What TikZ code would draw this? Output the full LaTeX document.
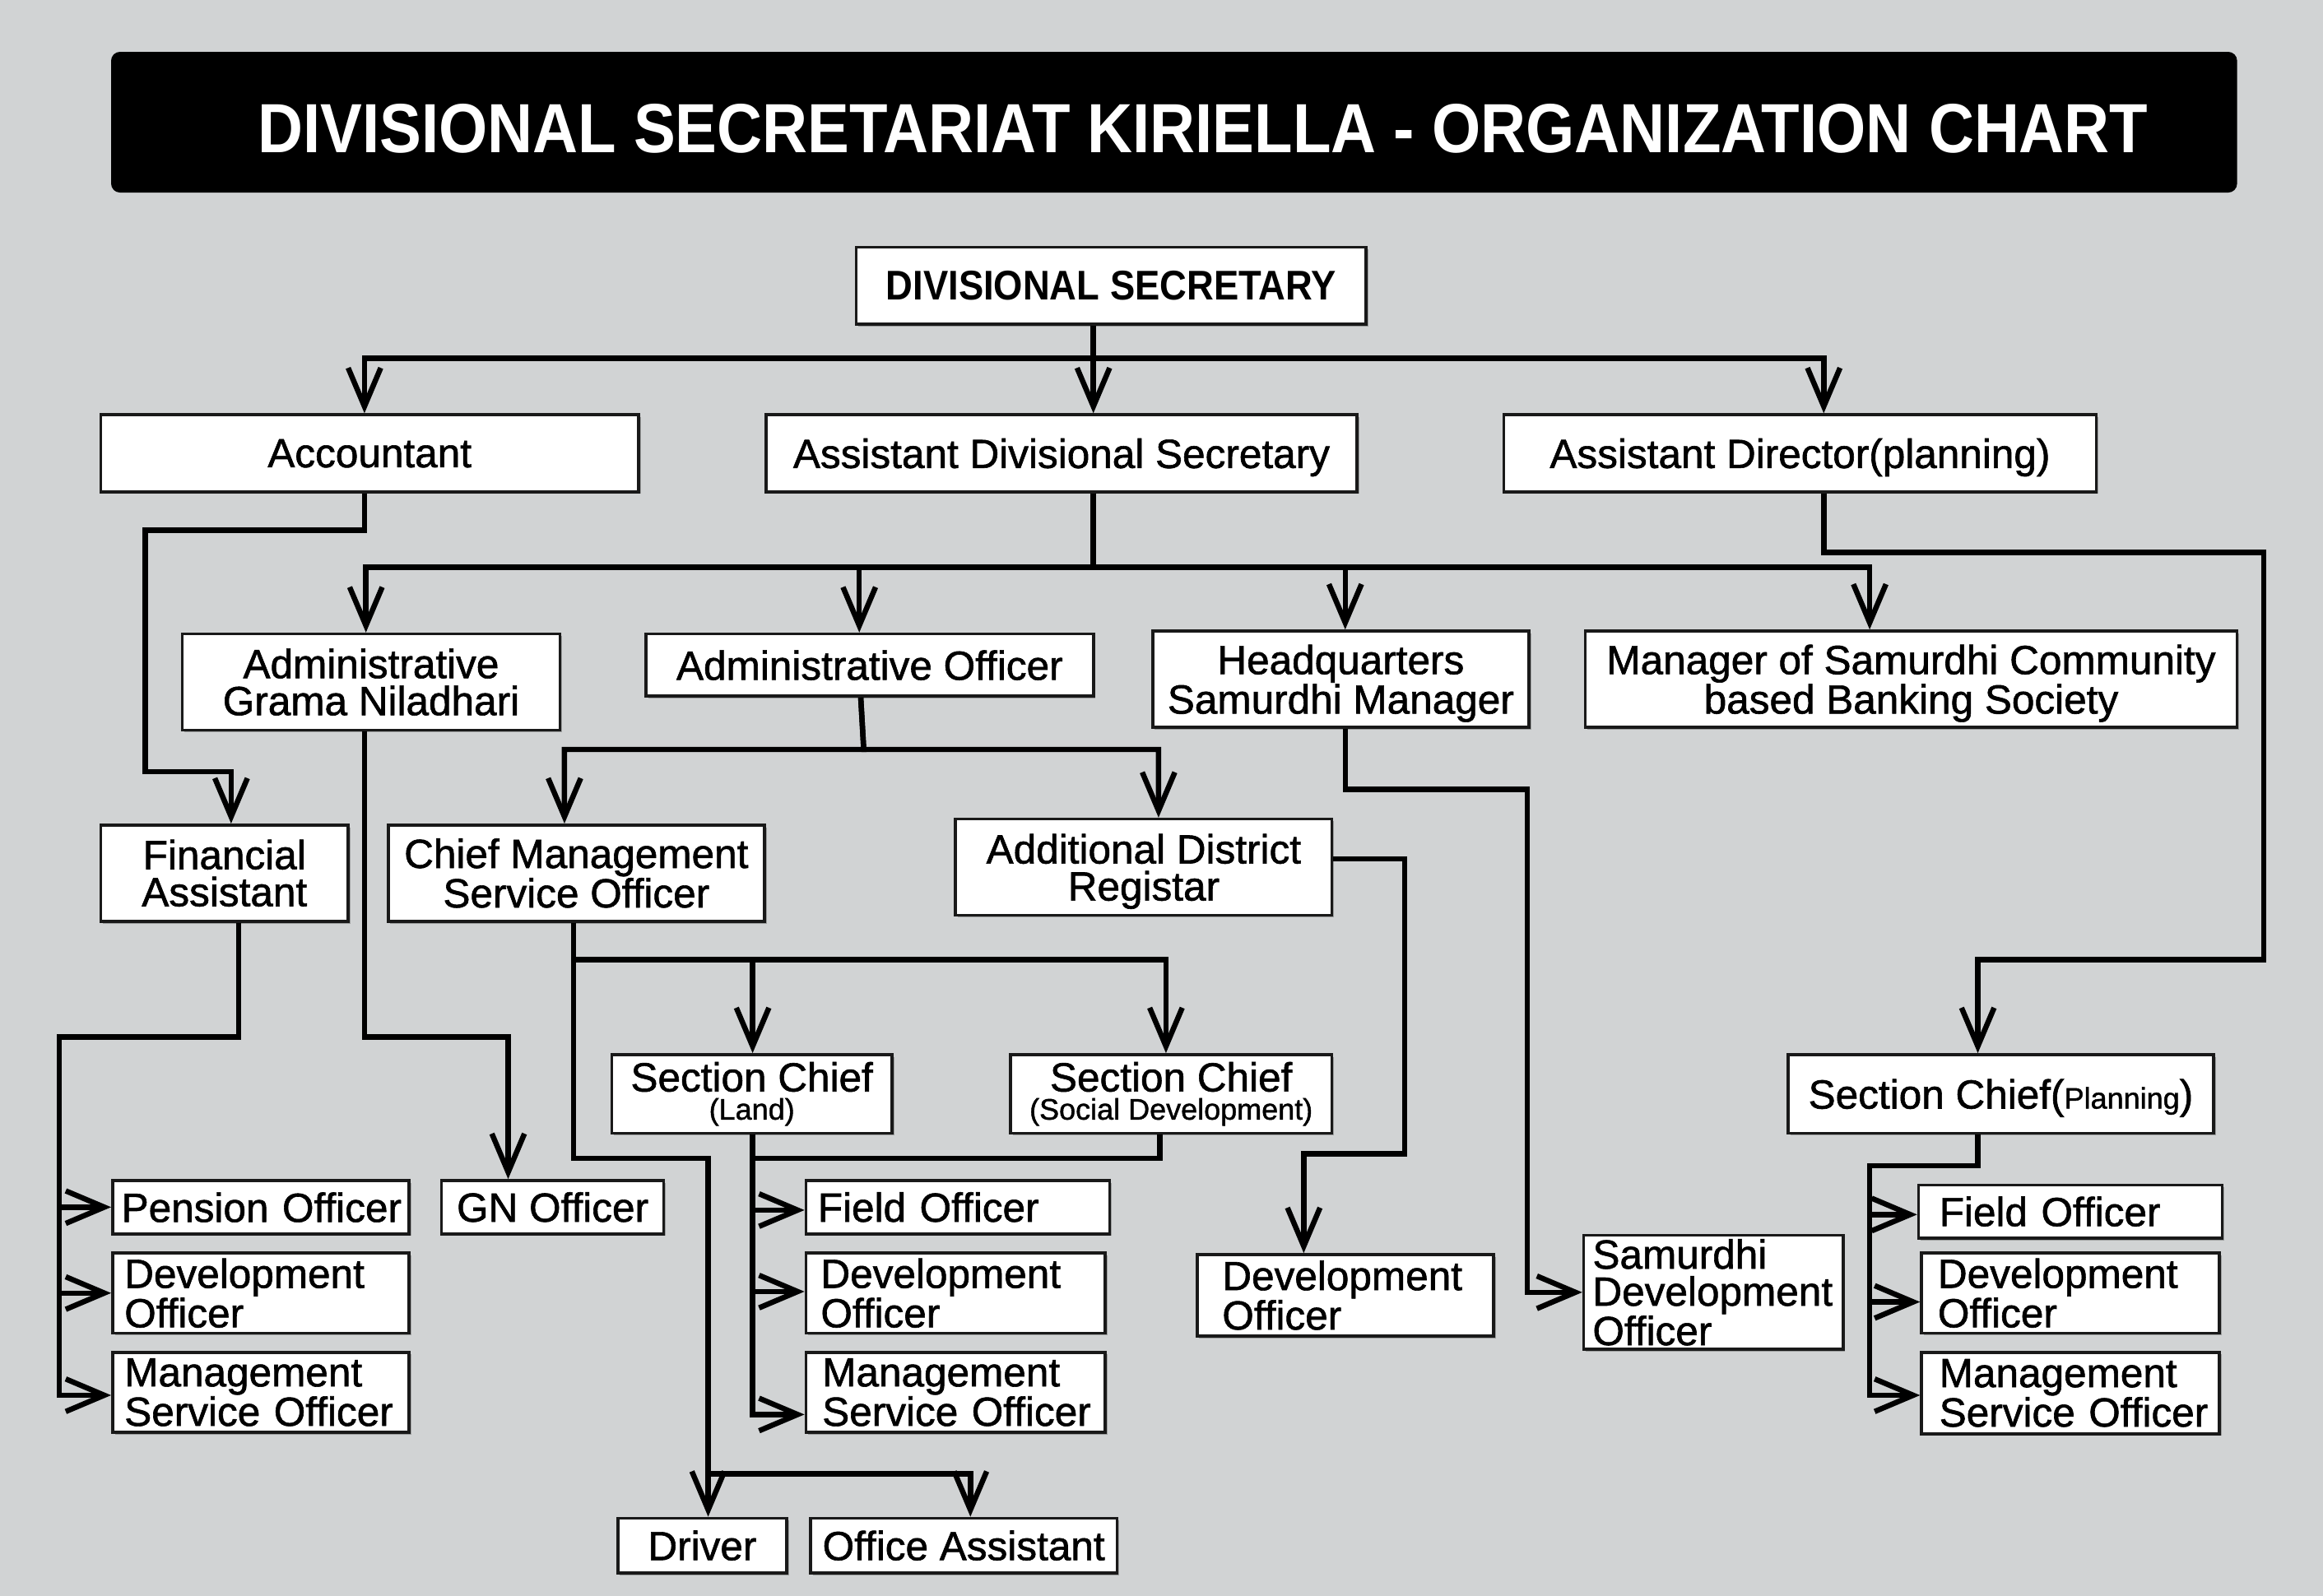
\documentclass[tikz,border=0pt]{standalone}
\usepackage{fontspec}
\setmainfont{Liberation Sans}
\newfontfamily\condfont[FakeStretch=0.9]{Liberation Sans}
\newfontfamily\boxfont[RawFeature={embolden=1.2}]{Liberation Sans}
\usetikzlibrary{arrows.meta,shadows}
\definecolor{bg}{RGB}{209,211,212}
\begin{document}
\hyphenpenalty=10000
\exhyphenpenalty=10000
\begin{tikzpicture}[x=1pt,y=-1pt,
  box/.style={draw=black!90, line width=2pt, fill=white, inner sep=0pt, align=center,
    font=\boxfont\fontsize{27.5}{25}\selectfont,
    drop shadow={shadow xshift=1.5pt, shadow yshift=-1.5pt, opacity=0.25, fill=black}},
  lbox/.style={box, align=left},
  flat/.style={text depth=0pt},
  bar/.style={fill=black, rounded corners=6pt, minimum width=1435pt, minimum height=95pt, inner sep=0pt},
  titletext/.style={text=white, inner sep=0pt, font=\condfont\bfseries\fontsize{47}{47}\selectfont},
  conn/.style={line width=3.6pt, black},
  arr/.style={conn, -{Straight Barb[length=26pt,width=22pt]}}
]
\fill[bg] (0,0) rectangle (1568,1077.5);
\node[bar] (bar) at (792.5,82.5) {};
\node[titletext] (title) at (812,87) {DIVISIONAL SECRETARIAT KIRIELLA - ORGANIZATION CHART};

% boxes
\node[box, minimum width=344pt, minimum height=52pt, font=\condfont\bfseries\fontsize{28}{28}\selectfont] (ds) at (750,193) {DIVISIONAL SECRETARY};
\node[box, flat, minimum width=363pt, minimum height=52pt] (acc) at (249.5,306) {Accountant};
\node[box, flat, minimum width=399pt, minimum height=52pt] (ads) at (716.5,306) {Assistant Divisional Secretary};
\node[box, flat, minimum width=400pt, minimum height=52pt] (ad) at (1215,306) {Assistant Director(planning)};
\node[box, minimum width=255pt, minimum height=65pt] (agn) at (250.5,460.5) {Administrative\\Grama Niladhari};
\node[box, flat, minimum width=302pt, minimum height=42pt] (ao) at (587,449) {Administrative Officer};
\node[box, flat, minimum width=254pt, minimum height=65pt] (hq) at (905,458.5) {Headquarters\\Samurdhi Manager};
\node[box, flat, minimum width=440pt, minimum height=65pt] (mgr) at (1290,458.5) {Manager of Samurdhi Community\\based Banking Society};
\node[box, minimum width=167pt, minimum height=65pt] (fa) at (151.5,589.5) {Financial\\Assistant};
\node[box, minimum width=254pt, minimum height=65pt] (cmso) at (389,589.5) {Chief Management\\Service Officer};
\node[box, flat, minimum width=254pt, minimum height=65pt] (adr) at (772,585.5) {Additional District\\Registar};
\node[box, minimum width=189pt, minimum height=53pt] (scl) at (507.5,738.5) {Section Chief\\[-6pt]{\fontsize{20}{20}\selectfont(Land)}};
\node[box, minimum width=217pt, minimum height=53pt] (scs) at (790.5,738.5) {Section Chief\\[-6pt]{\fontsize{20}{20}\selectfont(Social Development)}};
\node[box, flat, minimum width=287pt, minimum height=53pt] (scp) at (1350.5,738.5) {Section Chief({\fontsize{20}{20}\selectfont Planning})};

\node[lbox, flat, minimum height=36pt, text width=188pt, inner xsep=6pt] (pen) at (176,815) {\mbox{Pension Officer}};
\node[lbox, minimum height=54pt, text width=184pt, inner xsep=8pt] (dvl) at (176,873) {Development\\Officer};
\node[lbox, minimum height=54pt, text width=184pt, inner xsep=8pt] (msl) at (176,940) {Management\\\mbox{Service Officer}};
\node[box, minimum width=150pt, minimum height=36pt] (gno) at (373,815) {GN Officer};
\node[lbox, minimum height=36pt, text width=189pt, inner xsep=8pt] (fom) at (646.5,815) {\mbox{Field Officer}};
\node[lbox, minimum height=54pt, text width=182pt, inner xsep=10pt] (dvm) at (645,873) {Development\\Officer};
\node[lbox, minimum height=54pt, text width=180pt, inner xsep=11pt] (msm) at (645,940) {Management\\\mbox{Service Officer}};
\node[lbox, minimum height=55pt, text width=166pt, inner xsep=17pt] (dva) at (908,874.5) {Development\\Officer};
\node[lbox, minimum height=77pt, text width=163pt, inner xsep=6pt] (sdo) at (1156.5,872.5) {Samurdhi\\Development\\Officer};
\node[lbox, minimum height=36pt, text width=177pt, inner xsep=14pt] (fir) at (1397.5,818) {\mbox{Field Officer}};
\node[lbox, minimum height=54pt, text width=179pt, inner xsep=11pt] (dvr) at (1397.5,873) {Development\\Officer};
\node[lbox, minimum height=55pt, text width=177pt, inner xsep=12pt] (msr) at (1397.5,940.5) {Management\\\mbox{Service Officer}};
\node[box, minimum width=114pt, minimum height=37pt] (drv) at (474,1043.5) {Driver};
\node[box, minimum width=207pt, minimum height=37pt] (oa) at (650.5,1043.5) {Office Assistant};

% connectors
\draw[arr] (ds.south -| 738,0) -- (ads.north -| 738,0);
\draw[arr] (ds.south -| 738,0) -- (738,242) -| (acc.north -| 246,0);
\draw[arr] (ds.south -| 738,0) -- (738,242) -| (ad.north -| 1231,0);
\draw[arr] (acc.south -| 246,0) -- (246,358) -- (98,358) -- (98,521) -| (fa.north -| 156,0);
\draw[arr] (ads.south -| 738,0) -- (738,383) -| (agn.north -| 247,0);
\draw[arr] (ads.south -| 738,0) -- (738,383) -| (ao.north -| 580,0);
\draw[arr] (ads.south -| 738,0) -- (738,383) -| (hq.north -| 908,0);
\draw[arr] (ads.south -| 738,0) -- (738,383) -| (mgr.north -| 1262,0);
\draw[arr] (ad.south -| 1231,0) -- (1231,373) -- (1528,373) -- (1528,648) -| (scp.north -| 1335,0);
\draw[arr] (ao.south -| 581,0) -- (583,506) -| (cmso.north -| 381,0);
\draw[arr] (ao.south -| 581,0) -- (583,506) -| (adr.north -| 782,0);
\draw[arr] (agn.south -| 246,0) -- (246,700) -| (gno.north -| 343,0);
\draw[arr] (fa.south -| 161,0) -- (161,700) -- (40,700) |- (pen.west);
\draw[arr] (fa.south -| 161,0) -- (161,700) -- (40,700) |- (dvl.west);
\draw[arr] (fa.south -| 161,0) -- (161,700) -- (40,700) |- (msl.west |- 0,942);
\draw[arr] (cmso.south -| 387,0) -- (387,648) -| (scl.north -| 508,0);
\draw[arr] (cmso.south -| 387,0) -- (387,648) -| (scs.north -| 787,0);
\draw[arr] (cmso.south -| 387,0) -- (387,782) -- (478,782) -- (drv.north -| 478,0);
\draw[arr] (cmso.south -| 387,0) -- (387,782) -- (478,782) -- (478,995) -| (oa.north -| 655,0);
\draw[arr] (scl.south -| 508,0) |- (fom.west |- 0,817);
\draw[arr] (scl.south -| 508,0) |- (dvm.west |- 0,872);
\draw[arr] (scl.south -| 508,0) |- (msm.west |- 0,955);
\coordinate (jl) at (508,782);
\draw[conn] (scs.south -| 783,0) |- (jl);
\draw[arr] (adr.east |- 0,580) -- (948,580) -- (948,779) -| (dva.north -| 880,0);
\draw[arr] (hq.south -| 908,0) -- (908,533) -- (1031,533) |- (sdo.west);
\draw[arr] (scp.south -| 1335,0) -- (1335,787) -- (1262,787) |- (fir.west |- 0,820);
\draw[arr] (scp.south -| 1335,0) -- (1335,787) -- (1262,787) |- (dvr.west |- 0,879);
\draw[arr] (scp.south -| 1335,0) -- (1335,787) -- (1262,787) |- (msr.west |- 0,942);
\end{tikzpicture}
\end{document}
